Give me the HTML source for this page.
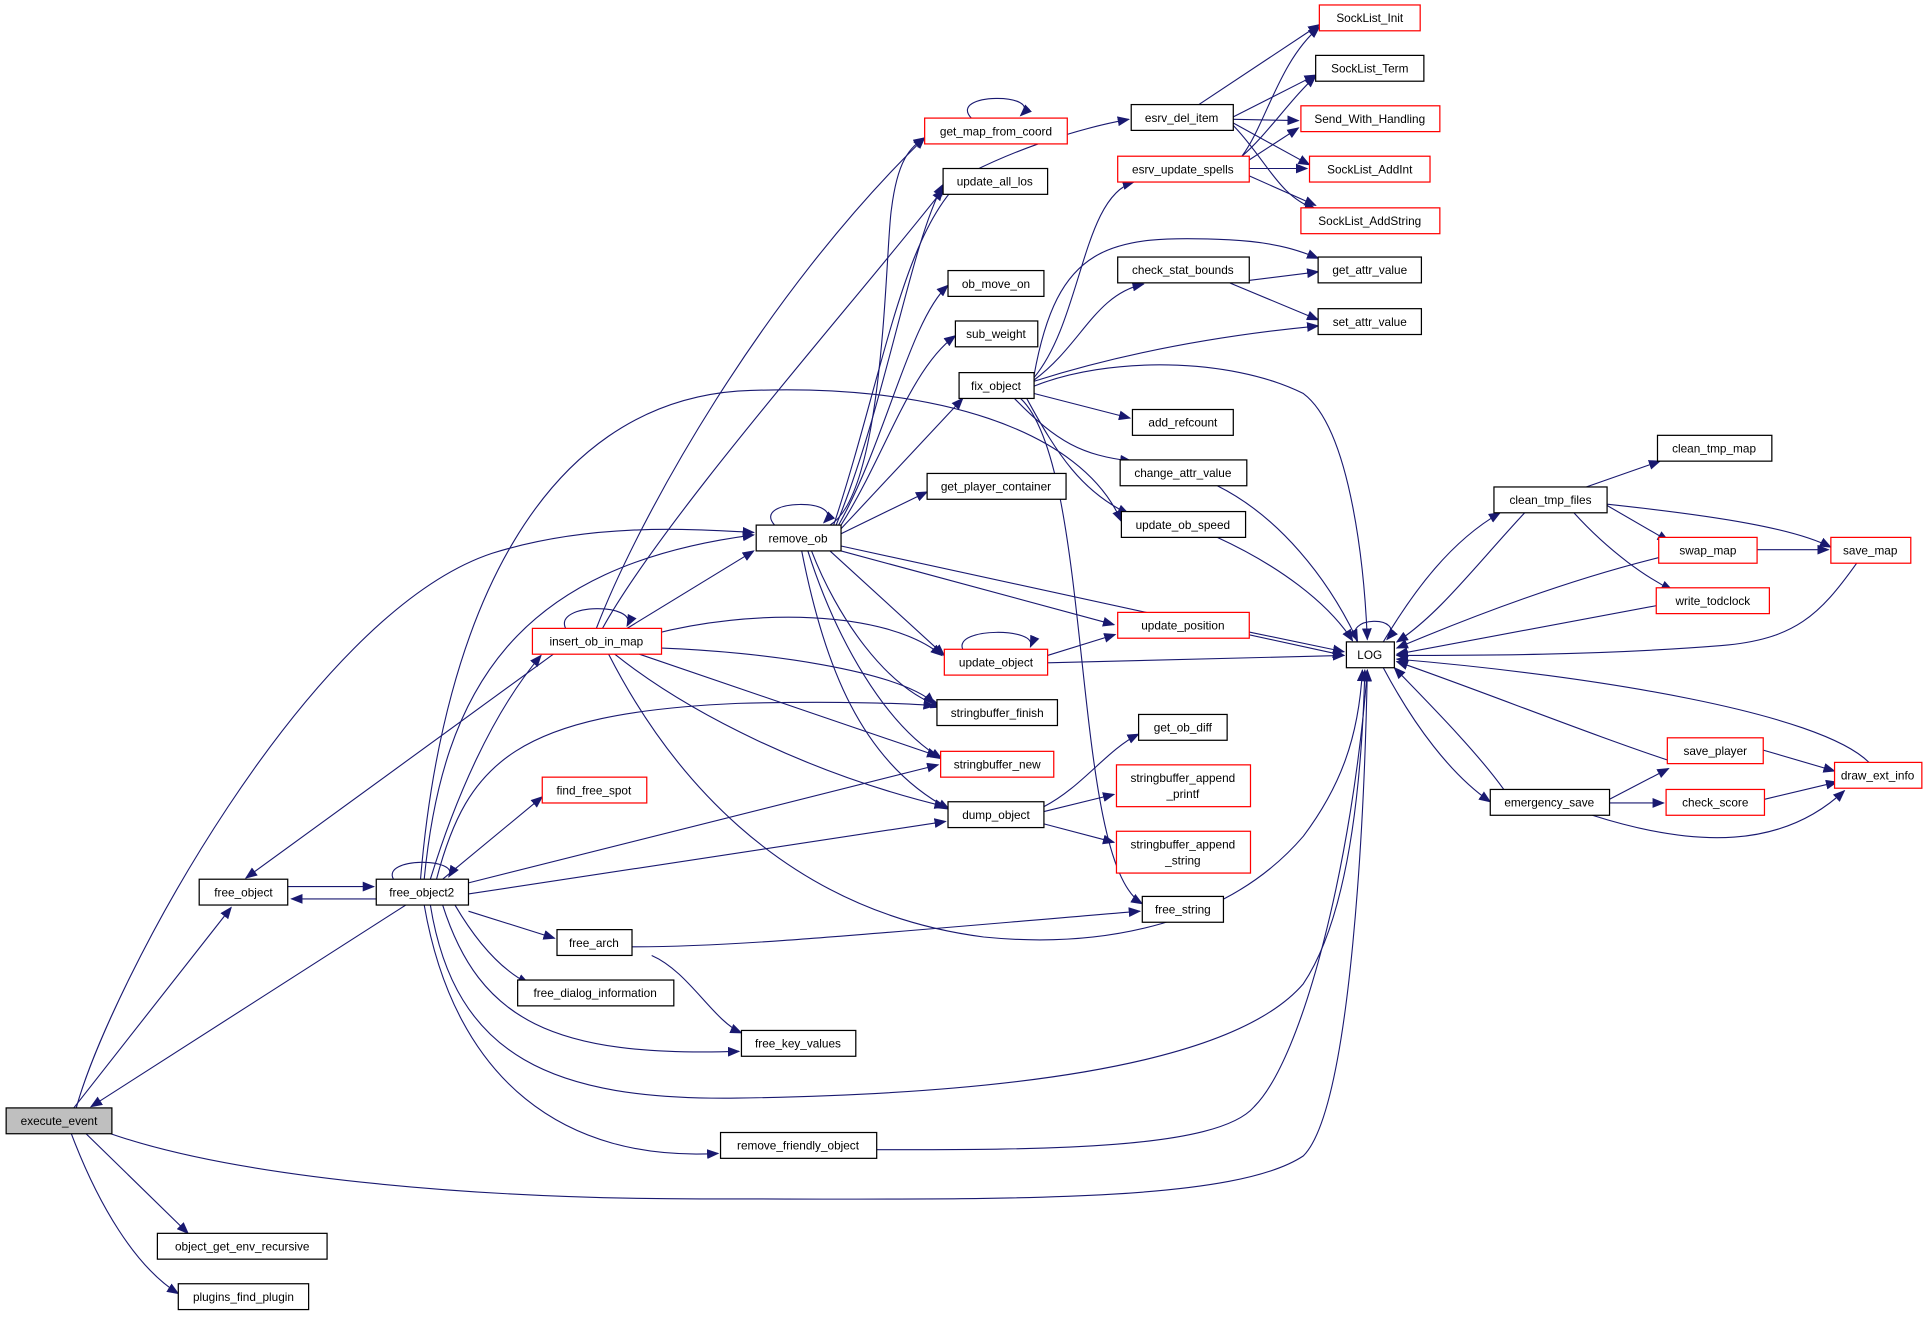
<!DOCTYPE html>
<html><head><meta charset="utf-8"><style>
html,body{margin:0;padding:0;background:#fff;}
svg{display:block}
text{font-family:"Liberation Sans",sans-serif;font-size:9.6px;text-anchor:middle;fill:#000}
.n{fill:#fff;stroke:#000;stroke-width:1}
.r{fill:#fff;stroke:#ff0000;stroke-width:1}
.e{fill:none;stroke:#191970;stroke-width:0.9}
</style></head><body>
<svg width="1928" height="1317" viewBox="0 0 1568 1071" xmlns="http://www.w3.org/2000/svg">
<defs><marker id="a" markerWidth="10" markerHeight="8" refX="9" refY="4" orient="auto" markerUnits="userSpaceOnUse"><path d="M0,0 L10,4 L0,8 z" fill="#191970"/></marker></defs>
<g class="e" marker-end="url(#a)">
<path d="M60,901 L188,738"/>
<path d="M62,901 C90,800 250,500 400,450 C480,425 560,430 613,433"/>
<path d="M70,922 L153,1003"/>
<path d="M58,922 C80,980 110,1030 145,1052"/>
<path d="M90,922 C200,960 400,975 570,975 C800,975 1000,980 1060,940 C1100,900 1110,650 1112,545"/>
<path d="M330,736 L74,900"/>
<path d="M234,721 L304,721"/>
<path d="M306,731 L237,731"/>
<path d="M320,715 C310,697 375,697 365,713"/>
<path d="M350,715 C370,650 400,580 440,533"/>
<path d="M360,715 L441,648"/>
<path d="M381,718 L763,622"/>
<path d="M381,727 L769,668"/>
<path d="M381,741 L451,763"/>
<path d="M370,736 C390,770 410,790 430,800"/>
<path d="M360,736 C390,830 450,860 601,855"/>
<path d="M350,736 C370,860 450,895 600,893 C800,890 1000,870 1060,800 C1100,740 1108,620 1110,545"/>
<path d="M345,736 C370,880 460,945 584,938"/>
<path d="M345,715 C360,560 420,460 613,435"/>
<path d="M355,715 C380,620 420,580 600,572 C680,570 740,572 760,574"/>
<path d="M342,715 C360,500 440,330 600,318 C760,310 880,350 912,424"/>
<path d="M450,532 L200,714"/>
<path d="M460,511 C450,490 520,490 510,509"/>
<path d="M510,511 L613,448"/>
<path d="M530,516 C610,495 720,495 766,533"/>
<path d="M538,527 C620,530 730,545 760,572"/>
<path d="M520,532 L763,615"/>
<path d="M500,532 C560,580 660,630 769,656"/>
<path d="M495,532 C540,620 630,740 800,762 C900,772 1000,750 1060,680 C1090,640 1105,600 1108,545"/>
<path d="M485,511 C520,420 620,240 752,112"/>
<path d="M490,511 C540,420 700,240 767,154"/>
<path d="M630,427 C610,405 690,405 670,425"/>
<path d="M675,427 C720,400 720,200 725,170 C730,130 740,120 752,112"/>
<path d="M680,427 C720,330 740,200 767,150"/>
<path d="M682,427 C720,360 740,260 771,232"/>
<path d="M684,427 C720,370 740,300 777,273"/>
<path d="M684,430 L783,324"/>
<path d="M684,434 L754,400"/>
<path d="M678,427 C720,300 735,180 790,140 C840,115 890,102 918,97"/>
<path d="M684,448 L906,508"/>
<path d="M684,444 L1093,533"/>
<path d="M675,448 L768,533"/>
<path d="M660,448 C680,500 720,560 766,575"/>
<path d="M657,448 C680,520 720,590 766,617"/>
<path d="M652,448 C670,540 700,620 772,658"/>
<path d="M783,528 C775,510 845,510 838,526"/>
<path d="M852,533 L907,516"/>
<path d="M852,539 L1093,533"/>
<path d="M1016,514 L1093,530"/>
<path d="M841,307 C880,260 880,160 922,148"/>
<path d="M841,309 C880,280 890,240 930,231"/>
<path d="M841,305 C860,200 900,190 1000,195 C1040,197 1060,205 1072,210"/>
<path d="M841,310 C920,285 1000,272 1072,265"/>
<path d="M841,320 L919,340"/>
<path d="M825,324 C860,360 880,370 920,375"/>
<path d="M835,324 C860,370 880,400 918,418"/>
<path d="M830,324 C890,380 870,700 929,735"/>
<path d="M841,314 C900,290 1000,290 1060,320 C1100,350 1110,470 1112,520"/>
<path d="M1000,230 L1072,221"/>
<path d="M1000,230 L1072,260"/>
<path d="M990,395 C1040,420 1080,470 1104,521"/>
<path d="M990,437 C1040,460 1080,490 1100,521"/>
<path d="M849,656 C880,640 900,610 926,597"/>
<path d="M849,660 L906,646"/>
<path d="M849,670 L906,685"/>
<path d="M514,770 C600,770 700,760 927,741"/>
<path d="M530,777 C560,790 580,830 603,840"/>
<path d="M713,935 C850,935 990,935 1020,900 C1060,860 1100,700 1112,545"/>
<path d="M975,85 L1073,20"/>
<path d="M1003,95 L1070,61"/>
<path d="M1003,97 L1056,98"/>
<path d="M1003,100 L1065,134"/>
<path d="M1003,102 C1030,130 1040,160 1070,170"/>
<path d="M1010,127 C1030,100 1040,50 1073,22"/>
<path d="M1010,127 C1030,110 1050,80 1070,62"/>
<path d="M1016,130 L1056,104"/>
<path d="M1016,137 L1063,137"/>
<path d="M1016,143 L1070,167"/>
<path d="M790,96 C770,75 850,75 830,94"/>
<path d="M1104,522 C1090,500 1145,500 1128,520"/>
<path d="M1125,522 C1150,480 1180,440 1220,417"/>
<path d="M1125,543 C1150,590 1180,630 1212,652"/>
<path d="M1240,417 C1200,460 1170,500 1136,522"/>
<path d="M1223,642 C1200,610 1160,570 1134,543"/>
<path d="M1290,396 L1350,375"/>
<path d="M1300,407 L1357,440"/>
<path d="M1307,410 C1400,420 1460,430 1489,445"/>
<path d="M1280,417 C1310,450 1340,470 1360,480"/>
<path d="M1355,452 C1280,470 1200,500 1136,527"/>
<path d="M1429,447 L1487,447"/>
<path d="M1350,492 L1136,532"/>
<path d="M1510,458 C1480,500 1460,520 1400,525 C1300,533 1200,533 1136,533"/>
<path d="M1309,650 L1357,625"/>
<path d="M1309,653 L1353,653"/>
<path d="M1295,663 C1380,690 1450,690 1500,643"/>
<path d="M1365,621 C1300,600 1200,560 1136,538"/>
<path d="M1434,610 L1492,627"/>
<path d="M1435,650 L1494,636"/>
<path d="M1520,620 C1480,580 1300,550 1136,536"/>
</g>
<g>
<rect x="5" y="901" width="86" height="21" fill="#bfbfbf" stroke="#000"/><text x="48" y="915">execute_event</text>
<rect class="n" x="128" y="1003" width="138" height="21"/><text x="197" y="1017">object_get_env_recursive</text>
<rect class="n" x="145" y="1044" width="106" height="21"/><text x="198" y="1058">plugins_find_plugin</text>
<rect class="n" x="162" y="715" width="72" height="21"/><text x="198" y="729">free_object</text>
<rect class="n" x="306" y="715" width="75" height="21"/><text x="343" y="729">free_object2</text>
<rect class="r" x="433" y="511" width="105" height="21"/><text x="485" y="525">insert_ob_in_map</text>
<rect class="r" x="441" y="632" width="85" height="21"/><text x="483" y="646">find_free_spot</text>
<rect class="n" x="453" y="756" width="61" height="21"/><text x="483" y="770">free_arch</text>
<rect class="n" x="421" y="797" width="127" height="21"/><text x="484" y="811">free_dialog_information</text>
<rect class="n" x="603" y="838" width="93" height="21"/><text x="649" y="852">free_key_values</text>
<rect class="n" x="586" y="921" width="127" height="21"/><text x="649" y="935">remove_friendly_object</text>
<rect class="n" x="615" y="427" width="69" height="21"/><text x="649" y="441">remove_ob</text>
<rect class="r" x="752" y="96" width="116" height="21"/><text x="810" y="110">get_map_from_coord</text>
<rect class="n" x="767" y="137" width="85" height="21"/><text x="809" y="151">update_all_los</text>
<rect class="n" x="771" y="220" width="78" height="21"/><text x="810" y="234">ob_move_on</text>
<rect class="n" x="777" y="261" width="67" height="21"/><text x="810" y="275">sub_weight</text>
<rect class="n" x="780" y="303" width="61" height="21"/><text x="810" y="317">fix_object</text>
<rect class="n" x="754" y="385" width="113" height="21"/><text x="810" y="399">get_player_container</text>
<rect class="r" x="768" y="528" width="84" height="21"/><text x="810" y="542">update_object</text>
<rect class="n" x="762" y="569" width="98" height="21"/><text x="811" y="583">stringbuffer_finish</text>
<rect class="r" x="765" y="611" width="92" height="21"/><text x="811" y="625">stringbuffer_new</text>
<rect class="n" x="771" y="652" width="78" height="21"/><text x="810" y="666">dump_object</text>
<rect class="n" x="920" y="85" width="83" height="21"/><text x="961" y="99">esrv_del_item</text>
<rect class="r" x="909" y="127" width="107" height="21"/><text x="962" y="141">esrv_update_spells</text>
<rect class="n" x="909" y="209" width="107" height="21"/><text x="962" y="223">check_stat_bounds</text>
<rect class="n" x="921" y="333" width="82" height="21"/><text x="962" y="347">add_refcount</text>
<rect class="n" x="911" y="374" width="103" height="21"/><text x="962" y="388">change_attr_value</text>
<rect class="n" x="912" y="416" width="101" height="21"/><text x="962" y="430">update_ob_speed</text>
<rect class="r" x="909" y="498" width="107" height="21"/><text x="962" y="512">update_position</text>
<rect class="n" x="926" y="581" width="72" height="21"/><text x="962" y="595">get_ob_diff</text>
<rect class="r" x="908" y="622" width="109" height="34"/><text x="962" y="636">stringbuffer_append</text><text x="962" y="649">_printf</text>
<rect class="r" x="908" y="676" width="109" height="34"/><text x="962" y="690">stringbuffer_append</text><text x="962" y="703">_string</text>
<rect class="n" x="929" y="729" width="66" height="21"/><text x="962" y="743">free_string</text>
<rect class="r" x="1073" y="4" width="82" height="21"/><text x="1114" y="18">SockList_Init</text>
<rect class="n" x="1070" y="45" width="88" height="21"/><text x="1114" y="59">SockList_Term</text>
<rect class="r" x="1058" y="86" width="113" height="21"/><text x="1114" y="100">Send_With_Handling</text>
<rect class="r" x="1065" y="127" width="98" height="21"/><text x="1114" y="141">SockList_AddInt</text>
<rect class="r" x="1058" y="169" width="113" height="21"/><text x="1114" y="183">SockList_AddString</text>
<rect class="n" x="1072" y="209" width="84" height="21"/><text x="1114" y="223">get_attr_value</text>
<rect class="n" x="1072" y="251" width="84" height="21"/><text x="1114" y="265">set_attr_value</text>
<rect class="n" x="1095" y="522" width="39" height="21"/><text x="1114" y="536">LOG</text>
<rect class="n" x="1215" y="396" width="92" height="21"/><text x="1261" y="410">clean_tmp_files</text>
<rect class="n" x="1212" y="642" width="97" height="21"/><text x="1260" y="656">emergency_save</text>
<rect class="n" x="1348" y="354" width="93" height="21"/><text x="1394" y="368">clean_tmp_map</text>
<rect class="r" x="1349" y="437" width="80" height="21"/><text x="1389" y="451">swap_map</text>
<rect class="r" x="1347" y="478" width="92" height="21"/><text x="1393" y="492">write_todclock</text>
<rect class="r" x="1356" y="600" width="78" height="21"/><text x="1395" y="614">save_player</text>
<rect class="r" x="1355" y="642" width="80" height="21"/><text x="1395" y="656">check_score</text>
<rect class="r" x="1489" y="437" width="65" height="21"/><text x="1521" y="451">save_map</text>
<rect class="r" x="1492" y="620" width="71" height="21"/><text x="1527" y="634">draw_ext_info</text>
</g>
</svg>
</body></html>
